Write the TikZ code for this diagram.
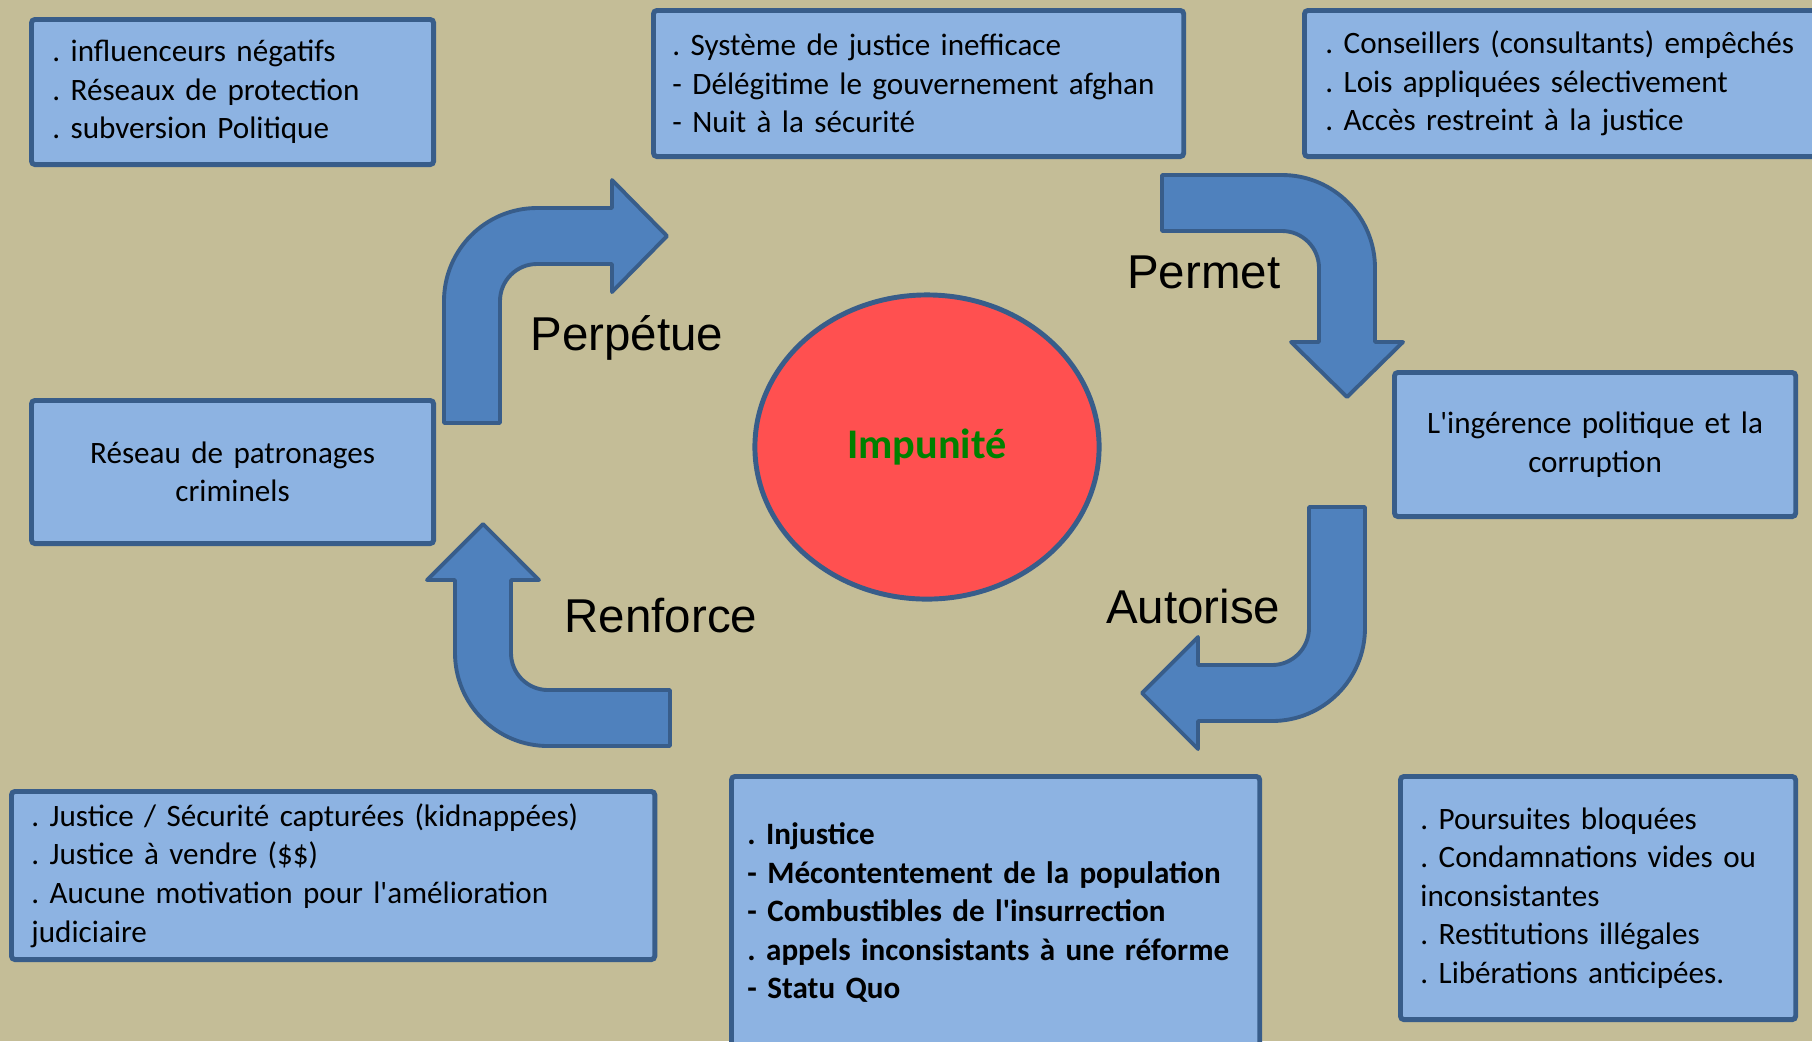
\documentclass[tikz,border=0pt]{standalone}
\usepackage{fontspec}
\setmainfont{Carlito}[Ligatures=TeXOff]
\newfontfamily\arialfont{Liberation Sans}
\usetikzlibrary{shapes.geometric}
\frenchspacing
\definecolor{bgtan}{HTML}{C4BD97}
\definecolor{panelblue}{HTML}{8DB3E2}
\definecolor{edgeblue}{HTML}{385D8A}
\definecolor{arrblue}{HTML}{4F81BD}
\definecolor{impred}{HTML}{FF5050}
\definecolor{impgreen}{HTML}{008000}
\tikzset{
  panel/.style={
    draw=edgeblue, fill=panelblue, line width=1.4pt, rounded corners=1pt,
    anchor=north west, inner ysep=0pt, inner xsep=0.2cm, align=left,
    font=\fontsize{8.85}{10.95}\selectfont
  },
  blockarr/.style={draw=edgeblue, fill=arrblue, line width=1.1pt, line join=round},
  verbe/.style={font=\arialfont\fontsize{13.5}{16}\selectfont, inner sep=0pt},
  core/.style={
    ellipse, draw=edgeblue, fill=impred, line width=1.4pt,
    minimum width=3.44cm, minimum height=3.04cm,
    text=impgreen, font=\bfseries\fontsize{12}{14}\selectfont
  }
}
\begin{document}
\begin{tikzpicture}[x=0.01cm, y=-0.01cm]
  \useasboundingbox (0,0) rectangle (1812,1041);
  \fill[bgtan] (0,0) rectangle (1812,1041);

  % boxes around the cycle
  \node[panel, text width=3.60cm, minimum height=1.45cm, inner xsep=0.21cm] (acteurs) at (29,17)
    {. influenceurs négatifs\\. Réseaux de protection\\. subversion Politique};
  \node[panel, text width=4.92cm, minimum height=1.46cm, inner xsep=0.19cm] (effets) at (651,8)
    {. Système de justice inefficace\\- Délégitime le gouvernement afghan\\- Nuit à la sécurité};
  \node[panel, text width=4.86cm, minimum height=1.46cm, inner xsep=0.21cm] (entraves) at (1302,8)
    {. Conseillers (consultants) empêchés\\. Lois appliquées sélectivement\\. Accès restreint à la justice};
  \node[panel, align=center, text width=3.62cm, minimum height=1.43cm] (reseau) at (29,398)
    {Réseau de patronages\\criminels};
  \node[panel, align=center, text width=3.61cm, minimum height=1.44cm] (ingerence) at (1392,370)
    {L'ingérence politique et la\\corruption};
  \node[panel, text width=6.03cm, minimum height=1.68cm] (capture) at (9,789)
    {. Justice / Sécurité capturées (kidnappées)\\. Justice à vendre (\$\$)\\. Aucune motivation pour l'amélioration\\judiciaire};
  \node[panel, text width=4.96cm, inner xsep=0.16cm, minimum height=2.72cm,
    font=\bfseries\fontsize{8.85}{10.95}\selectfont] (suites) at (729,774)
    {. Injustice\\- Mécontentement de la population\\- Combustibles de l'insurrection\\. appels inconsistants à une réforme\\- Statu Quo};
  \node[panel, text width=3.55cm, minimum height=2.43cm] (poursuites) at (1398,774)
    {. Poursuites bloquées\\. Condamnations vides ou\\inconsistantes\\. Restitutions illégales\\. Libérations anticipées.};

  \node[core] (impunite) at (927,447) {Impunité};

  % bent block arrows
  \draw[blockarr] (444,423) -- (444,301) arc[start angle=180, end angle=270, radius=93]
    -- (612,208) -- (612,180) -- (667,236) -- (612,292) -- (612,264) -- (537,264)
    arc[start angle=270, end angle=180, radius=37] -- (500,423) -- cycle;
  \draw[blockarr] (1162,175) -- (1282,175) arc[start angle=270, end angle=360, radius=93]
    -- (1375,342) -- (1403,342) -- (1347,397) -- (1291,342) -- (1319,342) -- (1319,268)
    arc[start angle=0, end angle=-90, radius=37] -- (1162,231) -- cycle;
  \draw[blockarr] (1309,507) -- (1365,507) -- (1365,628) arc[start angle=0, end angle=90, radius=93]
    -- (1198,721) -- (1198,749) -- (1142,693) -- (1198,637) -- (1198,665) -- (1272,665)
    arc[start angle=90, end angle=0, radius=37] -- cycle;
  \draw[blockarr] (670,690) -- (548,690) arc[start angle=90, end angle=180, radius=37]
    -- (511,580) -- (539,580) -- (483,524) -- (427,580) -- (455,580) -- (455,653)
    arc[start angle=180, end angle=90, radius=93] -- (670,746) -- cycle;

  \node[verbe, anchor=base west] (perpetue) at (530,350) {Perpétue};
  \node[verbe, anchor=base east] (permet) at (1281,288) {Permet};
  \node[verbe, anchor=base east] (autorise) at (1281,623) {Autorise};
  \node[verbe, anchor=base west] (renforce) at (564,632) {Renforce};
\end{tikzpicture}
\end{document}
